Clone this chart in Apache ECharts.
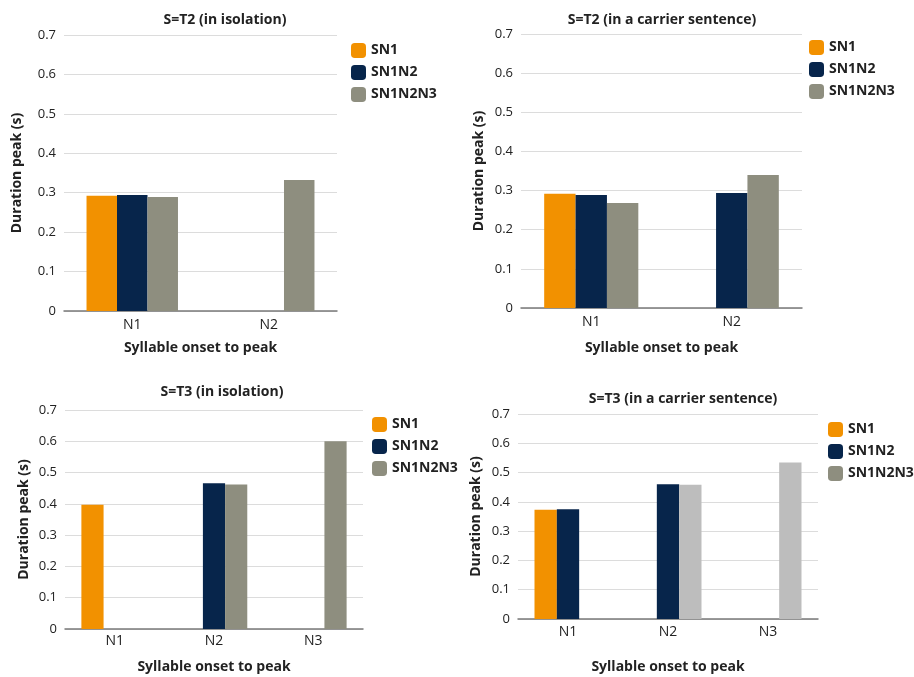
<!DOCTYPE html>
<html>
<head>
<meta charset="utf-8">
<script src="https://cdn.jsdelivr.net/npm/echarts@6/dist/echarts.min.js"></script>
<style>
html,body{margin:0;padding:0;background:#fff;}
#chart{width:914px;height:677px;}
</style>
</head>
<body>
<div id="chart"></div>
<script>
// ---- data ----
var seriesNames = ['SN1', 'SN1N2', 'SN1N2N3'];
var categoriesT2 = ['N1', 'N2'];
var categoriesT3 = ['N1', 'N2', 'N3'];
var yTicks = [0, 0.1, 0.2, 0.3, 0.4, 0.5, 0.6, 0.7];

var titles = ['S=T2 (in isolation)', 'S=T2 (in a carrier sentence)', 'S=T3 (in isolation)', 'S=T3 (in a carrier sentence)'];
var xAxisName = 'Syllable onset to peak';
var yAxisName = 'Duration peak (s)';

var t2IsoSN1 = [0.292, null];
var t2IsoSN1N2 = [0.294, null];
var t2IsoSN1N2N3 = [0.289, 0.332];

var t2CarSN1 = [0.292, null];
var t2CarSN1N2 = [0.289, 0.294];
var t2CarSN1N2N3 = [0.268, 0.340];

var t3IsoSN1 = [0.397, null, null];
var t3IsoSN1N2 = [null, 0.466, null];
var t3IsoSN1N2N3 = [null, 0.462, 0.600];

var t3CarSN1 = [0.373, null, null];
var t3CarSN1N2 = [0.375, 0.460, null];
var t3CarSN1N2N3 = [null, 0.458, 0.534];

// ---- styling ----
var FONT = '"Open Sans", "DejaVu Sans", sans-serif';
var ORANGE = '#F29100';
var NAVY = '#07254B';
var GRAY = '#8E8E7F';
var LIGHTGRAY = '#BDBDBD';

var panels = [
  {cats: categoriesT2, data: [t2IsoSN1, t2IsoSN1N2, t2IsoSN1N2N3], colors: [ORANGE, NAVY, GRAY],
   grid: {left: 64, right: 577, top: 35, bottom: 366},
   title: {x: 220, y: 8}, legend: {x: 346, y: 38}, yNameGap: 40, xNameGap: 30, xLabelMargin: 7},
  {cats: categoriesT2, data: [t2CarSN1, t2CarSN1N2, t2CarSN1N2N3], colors: [ORANGE, NAVY, GRAY],
   grid: {left: 521, right: 112, top: 34, bottom: 369},
   title: {x: 657, y: 8}, legend: {x: 804, y: 35}, yNameGap: 35, xNameGap: 33, xLabelMargin: 7},
  {cats: categoriesT3, data: [t3IsoSN1, t3IsoSN1N2, t3IsoSN1N2N3], colors: [ORANGE, NAVY, GRAY],
   grid: {left: 65, right: 551, top: 410, bottom: 48},
   title: {x: 217, y: 380}, legend: {x: 367, y: 412}, yNameGap: 34, xNameGap: 31, xLabelMargin: 5},
  {cats: categoriesT3, data: [t3CarSN1, t3CarSN1N2, t3CarSN1N2N3], colors: [ORANGE, NAVY, LIGHTGRAY],
   grid: {left: 518, right: 96, top: 414, bottom: 58},
   title: {x: 678, y: 387}, legend: {x: 823, y: 417}, yNameGap: 35, xNameGap: 41, xLabelMargin: 6}
];
var legendColors = [ORANGE, NAVY, GRAY];

var option = {
  animation: false,
  backgroundColor: '#fff',
  textStyle: {fontFamily: FONT},
  title: [], legend: [], grid: [], xAxis: [], yAxis: [], series: []
};

panels.forEach(function (p, i) {
  option.grid.push(p.grid);
  option.title.push({
    text: titles[i], left: p.title.x, top: p.title.y, textAlign: 'center',
    textStyle: {fontFamily: FONT, fontSize: 14, fontWeight: 'bold', color: '#222'}
  });
  option.legend.push({
    orient: 'vertical', left: p.legend.x, top: p.legend.y,
    itemWidth: 15, itemHeight: 15, itemGap: 7, icon: 'roundRect',
    textStyle: {fontFamily: FONT, fontSize: 14, fontWeight: 'bold', color: '#222'},
    selectedMode: false,
    data: seriesNames.map(function (n, k) { return {name: n, itemStyle: {color: legendColors[k]}}; })
  });
  option.xAxis.push({
    type: 'category', gridIndex: i, data: p.cats,
    name: xAxisName, nameLocation: 'middle', nameGap: p.xNameGap,
    nameTextStyle: {fontFamily: FONT, fontSize: 14, fontWeight: 'bold', color: '#222'},
    axisLine: {lineStyle: {color: '#7A7A7A', width: 1.5}},
    axisTick: {show: false},
    axisLabel: {fontFamily: FONT, fontSize: 14, color: '#222', margin: p.xLabelMargin}
  });
  option.yAxis.push({
    type: 'value', gridIndex: i, min: yTicks[0], max: yTicks[yTicks.length - 1], interval: 0.1,
    name: yAxisName, nameLocation: 'middle', nameGap: p.yNameGap,
    nameTextStyle: {fontFamily: FONT, fontSize: 14, fontWeight: 'bold', color: '#222'},
    axisLine: {show: false}, axisTick: {show: false},
    splitLine: {lineStyle: {color: '#DCDCDC', width: 1.2}},
    axisLabel: {fontFamily: FONT, fontSize: 13, color: '#222', margin: 8,
      formatter: function (v) { return String(Math.round(v * 10) / 10); }}
  });
  seriesNames.forEach(function (n, k) {
    option.series.push({
      type: 'bar', name: n, xAxisIndex: i, yAxisIndex: i,
      data: p.data[k], barGap: '0%', barCategoryGap: '33%',
      itemStyle: {color: p.colors[k]}
    });
  });
});

var chart = echarts.init(document.getElementById('chart'), null, {renderer: 'canvas'});
chart.setOption(option);
</script>
</body>
</html>
